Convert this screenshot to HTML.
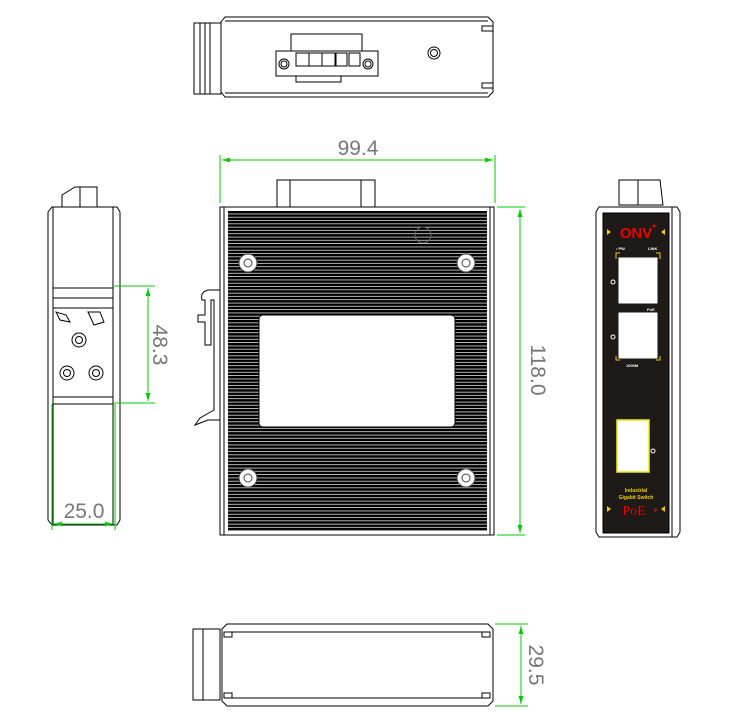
<!DOCTYPE html>
<html><head><meta charset="utf-8"><style>body{margin:0;background:#fff}svg{display:block}</style></head><body>
<svg width="750" height="723" viewBox="0 0 750 723" xmlns="http://www.w3.org/2000/svg" font-family="Liberation Sans, sans-serif">
<defs>
<pattern id="fins" x="0" y="211" width="10" height="3.3" patternUnits="userSpaceOnUse">
<rect width="10" height="2.6" fill="#000"/>
</pattern>
<marker id="ar" viewBox="0 0 10 10" refX="10" refY="5" markerWidth="8" markerHeight="8" orient="auto-start-reverse"><path d="M0,2 L10,5 L0,8z" fill="#0c0"/></marker>
</defs>
<g fill="none" stroke="#000" stroke-width="1">
<!-- TOP VIEW -->
<rect x="194" y="23" width="27" height="71" fill="#fff"/>
<line x1="200" y1="23" x2="200" y2="94"/><line x1="205" y1="23" x2="205" y2="94"/><line x1="210" y1="23" x2="210" y2="94"/>
<path d="M225,17 L488,17 L493,22 L493,92 L488,97 L225,97 L221,92 L221,22z"/>
<line x1="225" y1="21" x2="488" y2="21"/><line x1="225" y1="93" x2="488" y2="93"/>
<rect x="482" y="26" width="11" height="5"/><rect x="482" y="83" width="11" height="5"/>
<rect x="291" y="34" width="71" height="17"/>
<rect x="276" y="51" width="102" height="25"/>
<rect x="296" y="76" width="45" height="6"/>
<rect x="296" y="53" width="13" height="13"/><rect x="309" y="53" width="13" height="13"/><rect x="322" y="53" width="13" height="13"/><rect x="336" y="53" width="11" height="13"/><rect x="349" y="53" width="11" height="13"/>
<circle cx="284" cy="64" r="5"/><circle cx="284" cy="64" r="3"/>
<circle cx="368" cy="64" r="5"/><circle cx="368" cy="64" r="3"/>
<circle cx="434" cy="53" r="6"/><circle cx="434" cy="53" r="3.5"/>

<!-- FRONT VIEW -->
<rect x="277" y="180" width="98" height="27" fill="#fff"/>
<line x1="290" y1="180" x2="290" y2="207"/><line x1="361" y1="180" x2="361" y2="207"/>
<rect x="220" y="207" width="274" height="328" fill="#fff"/>
<rect x="224" y="207" width="266" height="328"/>
<rect x="228" y="211" width="259" height="320" fill="url(#fins)" stroke="none"/>
<rect x="259" y="315" width="196" height="112" rx="4" fill="#fff"/>
<g fill="#fff" stroke="#444">
<circle cx="248" cy="263" r="9"/><circle cx="466" cy="263" r="9"/><circle cx="248" cy="478" r="9"/><circle cx="466" cy="478" r="9"/>
<circle cx="248" cy="263" r="4"/><circle cx="466" cy="263" r="4"/><circle cx="248" cy="478" r="4"/><circle cx="466" cy="478" r="4"/>
</g>
<circle cx="423" cy="235" r="8" stroke="#666"/>
<path d="M220,290 L208,290 Q200,292 202,300 L205,300 L205,315 L198,315 L198,322 L205,322 L205,345 L211,345 L211,300 L214,300 L214,410 L200,418 L195,425 L208,420 L220,420"/>

<!-- LEFT VIEW -->
<path d="M62,195 L75,187 L97,187 L97,211 L62,211z" fill="#fff"/><line x1="80" y1="187" x2="80" y2="211"/>
<path d="M52,207 L117,207 L120,212 L120,520 L117,525 L52,525 L48,520 L48,212z" fill="#fff"/>
<line x1="53" y1="207" x2="53" y2="525"/><line x1="113" y1="207" x2="113" y2="525"/>
<rect x="53" y="288" width="60" height="10" fill="#fff"/>
<rect x="53" y="298" width="60" height="10"/>
<rect x="53" y="397" width="60" height="7" fill="#fff"/>
<path d="M56,312 L60,320 L70,322 L66,315z M88,312 L94,325 L104,322 L100,312z"/>
<circle cx="79" cy="340" r="7"/><circle cx="79" cy="340" r="3.5"/>
<circle cx="67" cy="373" r="7"/><circle cx="67" cy="373" r="3.5"/>
<circle cx="96" cy="373" r="7"/><circle cx="96" cy="373" r="3.5"/>

<!-- RIGHT VIEW -->
<path d="M619,180 L660,180 L663,205 L619,205z" fill="#fff"/><line x1="638" y1="180" x2="638" y2="205"/>
<path d="M599,207 L677,207 L680,212 L680,532 L677,537 L599,537 L596,532 L596,212z" fill="#fff"/>
<line x1="672" y1="207" x2="672" y2="537"/>
<rect x="603" y="213" width="66" height="320" fill="#1e1a17"/>
<rect x="619" y="258" width="38" height="45" fill="#fff" stroke="#fff"/>
<rect x="619" y="313" width="38" height="45" fill="#fff" stroke="#fff"/>
<rect x="617" y="420" width="32" height="52" fill="#fff" stroke="#ee0" stroke-width="1.5"/>
<path d="M616,259 L616,253 L620,253 M656,253 L660,253 L660,259 M616,356 L616,360 L620,360 M656,360 L660,360 L660,356" stroke="#ec0"/>
<!-- BOTTOM VIEW -->
<rect x="193" y="629" width="27" height="71" fill="#fff"/><line x1="203" y1="629" x2="203" y2="700"/>
<path d="M227,624 L488,624 L493,629 L493,701 L488,706 L227,706 L222,701 L222,629z" fill="#fff"/>
<line x1="224" y1="632" x2="490" y2="632"/><line x1="224" y1="698" x2="490" y2="698"/>
<rect x="224" y="632" width="8" height="5"/><rect x="482" y="632" width="8" height="5"/><rect x="224" y="693" width="8" height="5"/><rect x="482" y="693" width="8" height="5"/>
</g>
<!-- front panel text -->
<g font-weight="bold">
<text x="636" y="238" fill="#e00" font-size="15" text-anchor="middle">ONV</text>
<circle cx="654" cy="226" r="1.5" fill="#e00"/>
<path d="M607,229 L611,232 L607,235z M665,229 L661,232 L665,235z M607,506 L611,509 L607,512z M665,506 L661,509 L665,512z" fill="#ec0"/>
<text x="616" y="250" fill="#fff" font-size="4">• PW</text>
<text x="648" y="250" fill="#fff" font-size="4">LINK</text>
<text x="647" y="311" fill="#fff" font-size="4">PoE</text>
<text x="626" y="367" fill="#fff" font-size="4">1000M</text>
<text x="636" y="492" fill="#ec0" font-size="5" text-anchor="middle">Industrial</text>
<text x="636" y="499" fill="#ec0" font-size="5" text-anchor="middle">Gigabit Switch</text>
<text x="634" y="515" fill="#e00" font-size="14" font-family="Liberation Serif, serif" font-weight="normal" text-anchor="middle">PoE</text>
<text x="653" y="513" fill="#e00" font-size="9">+</text>
</g>
<circle cx="613" cy="282" r="2" fill="none" stroke="#fff"/><circle cx="613" cy="337" r="2" fill="none" stroke="#fff"/><circle cx="653" cy="451" r="2" fill="none" stroke="#fff"/>
<!-- DIMENSIONS -->
<g stroke="#0c0" stroke-width="1" fill="none">
<line x1="220" y1="155" x2="220" y2="203"/><line x1="495" y1="155" x2="495" y2="203"/>
<line x1="222" y1="160" x2="493" y2="160" marker-start="url(#ar)" marker-end="url(#ar)"/>
<line x1="497" y1="207" x2="525" y2="207"/><line x1="497" y1="535" x2="525" y2="535"/>
<line x1="520" y1="209" x2="520" y2="533" marker-start="url(#ar)" marker-end="url(#ar)"/>
<line x1="113" y1="286" x2="155" y2="286"/><line x1="113" y1="403" x2="155" y2="403"/>
<line x1="148" y1="288" x2="148" y2="401" marker-start="url(#ar)" marker-end="url(#ar)"/>
<line x1="52" y1="404" x2="52" y2="530"/><line x1="115" y1="404" x2="115" y2="530"/>
<line x1="54" y1="524" x2="113" y2="524" marker-start="url(#ar)" marker-end="url(#ar)"/>
<line x1="495" y1="624" x2="528" y2="624"/><line x1="495" y1="706" x2="528" y2="706"/>
<line x1="521" y1="626" x2="521" y2="704" marker-start="url(#ar)" marker-end="url(#ar)"/>
</g>
<g fill="#777" font-size="21">
<text x="358" y="155" text-anchor="middle">99.4</text>
<text x="84" y="518" text-anchor="middle">25.0</text>
<text transform="translate(531,370) rotate(90)" text-anchor="middle">118.0</text>
<text transform="translate(153,345) rotate(90)" text-anchor="middle">48.3</text>
<text transform="translate(529,665) rotate(90)" text-anchor="middle">29.5</text>
</g>
</svg>
</body></html>
